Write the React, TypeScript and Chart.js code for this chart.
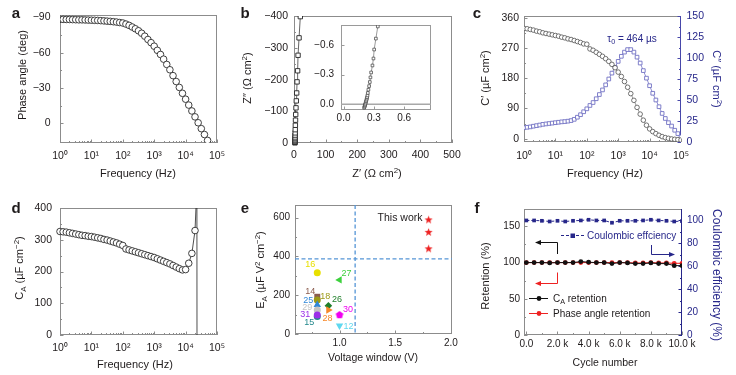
import { useEffect, useRef } from 'react';
import { Chart, registerables } from 'chart.js';

Chart.register(...registerables);

/* ===================== DATA ===================== */
const FREQ_HZ = [
  1, 1.259, 1.585, 1.995, 2.512, 3.162, 3.981, 5.012, 6.31, 7.943,
  10, 12.59, 15.85, 19.95, 25.12, 31.62, 39.81, 50.12, 63.1, 79.43,
  100, 125.9, 158.5, 199.5, 251.2, 316.2, 398.1, 501.2, 631, 794.3,
  1000, 1259, 1585, 1995, 2512, 3162, 3981, 5012, 6310, 7943,
  10000, 12589, 15849, 19953, 25119, 31623, 39811, 50119, 63096, 79433, 100000,
];
const LOG_TICKS = [1, 10, 100, 1000, 10000, 100000];

// (a) phase angle (deg)
const PHASE_ANGLE = [
  -88.3, -88.3, -88.2, -88.2, -88.1, -88.0, -87.9, -87.9, -87.8, -87.7,
  -87.6, -87.5, -87.4, -87.2, -87.0, -86.8, -86.6, -86.3, -86.0, -85.6,
  -85.2, -84.3, -83.2, -81.8, -80.3, -78.6, -76.5, -74.0, -71.2, -68.5,
  -65.5, -62.0, -58.5, -54.5, -50.0, -45.5, -40.5, -35.5, -30.5, -25.5,
  -20.5, -15.5, -10.5, -5.5, -0.5, 4.5, 9.5, 14.5,
];
const A_Y_TICKS = [-90, -60, -30, 0];

// (b) Nyquist
const Z_RE = [3.0, 3.0, 3.1, 3.1, 3.2, 3.3, 3.4, 3.5, 3.7, 3.9, 4.3, 4.8, 5.4, 6.3, 7.3, 8.5, 9.7, 11.5, 12.8, 16, 20];
const Z_IM = [-0.5, -2, -4, -7, -10, -14, -19, -25, -32, -42, -56, -72, -90, -111, -133, -158, -193, -228, -277, -332, -399];
const B_X_TICKS = [0, 100, 200, 300, 400, 500];
const B_Y_TICKS = [-400, -300, -200, -100, 0];
const INSET_Z_RE = [0.204, 0.208, 0.211, 0.213, 0.216, 0.22, 0.223, 0.227, 0.23, 0.233, 0.237, 0.24, 0.246, 0.253, 0.26, 0.266, 0.273, 0.286, 0.296, 0.303, 0.32, 0.339];
const INSET_Z_IM = [0.035, 0.025, 0.015, 0.006, -0.005, -0.018, -0.031, -0.045, -0.058, -0.072, -0.09, -0.115, -0.148, -0.185, -0.226, -0.273, -0.323, -0.394, -0.465, -0.556, -0.667, -0.79];
const INSET_X_TICKS = [0, 0.3, 0.6];
const INSET_Y_TICKS = [-0.6, -0.3, 0];
const INSET_BASELINE = 0;

// (c) C' (left) and C'' (right)
const C_REAL = [
  328, 327, 325, 323, 320, 318, 315, 313, 311, 309,
  307, 305, 302, 300, 297, 295, 292, 289, 286, 282,
  281, 267, 263, 257, 251, 245, 238, 230, 221, 211,
  198, 185, 170, 153, 134, 114, 93, 73, 55, 40,
  29, 21, 15, 10, 6, 3, 1, -1, -2, -3, -4,
];
const C_IMAG = [
  17, 17.5, 18, 18.8, 19.5, 20.2, 21, 21.5, 22, 22.5,
  23, 23.5, 24, 24.3, 24.8, 25.5, 27, 29.5, 32.5, 36,
  39.5, 43.5, 47, 51.5, 56.5, 62, 68, 75, 82, 89,
  96, 102, 107, 110, 110, 107, 101, 94, 85, 76,
  67, 58, 50, 42, 34, 28, 23, 19, 14, 10, 6,
];
const C_LEFT_TICKS = [0, 90, 180, 270, 360];
const C_RIGHT_TICKS = [0, 25, 50, 75, 100, 125, 150];

// (d) areal capacitance
const CA = [
  326, 325, 324, 322, 320, 318, 316, 314, 313, 311,
  310, 308, 306, 304, 301, 299, 296, 293, 290, 286,
  282, 271, 268, 265, 262, 259, 256, 253, 250, 247,
  244, 240, 236, 232, 228, 224, 219, 214, 209, 205,
  206, 226, 257, 329,
];
const CA_TAIL_FREQ = [22900, 24000];
const CA_TAIL = [470, -3000];
const D_Y_TICKS = [0, 100, 200, 300, 400];

// (e) comparison
const REF_IDS = ['16', '27', '14', '18', '25', '26', '29', '28', '15', '31', '30', '12'];
const REF_WINDOW = [0.8, 1.0, 0.8, 0.8, 0.8, 0.9, 0.8, 0.9, 0.8, 0.8, 1.0, 1.0];
const REF_EA = [316, 279, 192, 175, 150, 146, 124, 124, 90, 98, 98, 43];
const THIS_WORK_WINDOW = [1.8, 1.8, 1.8];
const THIS_WORK_EA = [588, 524, 439];
const THRESHOLD_WINDOW = 1.14;
const THRESHOLD_EA = 387;
const E_X_TICKS = [1.0, 1.5, 2.0];
const E_Y_TICKS = [0, 200, 400, 600];

// (f) cycling
const CYCLES = [0, 500, 1000, 1500, 2000, 2500, 3000, 3500, 4000, 4500, 5000, 5500, 6000, 6500, 7000, 7500, 8000, 8500, 9000, 9500, 10000];
const CA_RETENTION = [100, 100, 100, 99.5, 100, 100, 100, 101.4, 100.5, 100, 100, 98.6, 100, 99.5, 98.6, 98.6, 99.5, 98.6, 98.6, 95.8, 95.8];
const PHASE_RETENTION = [100, 100, 100, 100, 100, 100, 100, 100, 100, 100, 100, 100, 100, 100, 99.5, 99.5, 100, 99.5, 99.5, 99, 99];
const COULOMBIC = [100, 100, 99.7, 99.1, 99.7, 99.1, 99.7, 100, 100.6, 100, 100, 98, 99.7, 99.7, 99.7, 100, 100.6, 100, 99.7, 99.1, 99.4];
const F_X_TICKS = [0, 2000, 4000, 6000, 8000, 10000];
const F_LEFT_TICKS = [0, 50, 100, 150];
const F_RIGHT_TICKS = [0, 20, 40, 60, 80, 100];

/* ===================== STYLE ===================== */
const FONT = '"Liberation Sans", Arial, Helvetica, sans-serif';
const TXT = '#1e1a1b';
const FRAME = '#8c8c8c';
const NAVY = '#27278a';
const SLATE = '#7272c4';
const RED = '#ee2222';

const REF_COLORS = ['#e8e000', '#3dd13d', '#8b5c4e', '#9c9a17', '#2f87d8', '#1f7f2a', '#c4c4c4', '#f7892a', '#23888c', '#9b30e8', '#f000f0', '#5fd8ef'];
const REF_MARKERS = ['circle', 'triangle', 'rect', 'circle', 'triangle', 'rectRot', 'circle', 'triangle', 'circle', 'circle', 'pentagon', 'triangle'];
const REF_ROTATION = [0, -90, 0, 0, 0, 0, 0, 90, 0, 0, 0, 180];
const REF_LABEL_DX = [-7, 7, -7, 8, -9, 8.5, -10, -1, -8, -12, 8.5, 9];
const REF_LABEL_DY = [-9, -7.5, -6, -4.5, -5, -6.5, -3.5, 8, 5, -1.5, -6, 0];

/* ===================== HELPERS ===================== */
type Seg = { t: string; s?: 'sub' | 'sup' };
const SUP: Record<string, string> = { '0': '⁰', '1': '¹', '2': '²', '3': '³', '4': '⁴', '5': '⁵' };
const logLabel = (v: number) => '10' + String(Math.round(Math.log10(v))).split('').map((c) => SUP[c]).join('');
const minus = (s: string) => s.replace('-', '−');
const fmtInt = (v: number) => minus(String(Math.round(v)));
const fmt1 = (v: number) => minus((Math.abs(v) < 1e-9 ? 0 : v).toFixed(1));
const fmtK = (v: number) => (v === 0 ? '0.0' : (v / 1000).toFixed(1) + ' k');
const mids = (a: number[]) => a.slice(1).map((v, i) => (v + a[i]) / 2);
const LOG_MINOR: number[] = [];
for (let e = 0; e < 5; e++) for (let k = 2; k < 10; k++) LOG_MINOR.push(k * Math.pow(10, e));

function drawRich(ctx: CanvasRenderingContext2D, parts: Seg[], x: number, y: number,
  o: { size?: number; color?: string; rot?: number; align?: 'center' | 'left' | 'right'; bold?: boolean } = {}) {
  const size = o.size ?? 11;
  const small = size * 0.72;
  const weight = o.bold ? 'bold ' : '';
  ctx.save();
  ctx.translate(x, y);
  if (o.rot) ctx.rotate(o.rot);
  let w = 0;
  const widths = parts.map((p) => {
    ctx.font = `${weight}${p.s ? small : size}px ${FONT}`;
    const m = ctx.measureText(p.t).width;
    w += m;
    return m;
  });
  let cx = o.align === 'left' ? 0 : o.align === 'right' ? -w : -w / 2;
  ctx.fillStyle = o.color ?? TXT;
  ctx.textBaseline = 'alphabetic';
  ctx.textAlign = 'left';
  parts.forEach((p, i) => {
    ctx.font = `${weight}${p.s ? small : size}px ${FONT}`;
    const dy = p.s === 'sup' ? -size * 0.4 : p.s === 'sub' ? size * 0.25 : 0;
    ctx.fillText(p.t, cx, size * 0.36 + dy);
    cx += widths[i];
  });
  ctx.restore();
}
const T = (t: string): Seg[] => [{ t }];

function box(L: number, Tp: number, R: number, B: number, lw: number, bh: number, rw = 0) {
  return { padding: { left: L - lw, top: Tp, right: 736 - R - rw, bottom: 375 - B - bh } };
}

function axis(o: any) {
  const horiz = o.position === 'bottom';
  return {
    type: o.type || 'linear',
    position: o.position,
    min: o.min,
    max: o.max,
    reverse: !!o.reverse,
    afterBuildTicks: (s: any) => { s.ticks = o.ticks.map((v: number) => ({ value: v })); },
    afterFit: (s: any) => {
      if (horiz) { s.height = o.size; s.paddingLeft = 0; s.paddingRight = 0; }
      else { s.width = o.size; s.paddingTop = 0; s.paddingBottom = 0; }
    },
    ticks: {
      autoSkip: false, maxRotation: 0, minRotation: 0, padding: o.pad,
      color: o.color || TXT,
      font: { family: FONT, size: o.fontSize || 10.5 },
      callback: (v: any) => (o.fmt ? o.fmt(Number(v)) : fmtInt(Number(v))),
    },
    grid: { display: false, drawTicks: false },
    border: { display: false },
    title: { display: false },
  };
}

function opts(layout: any, scales: any) {
  return {
    animation: false as const, responsive: false, maintainAspectRatio: false, devicePixelRatio: 1,
    events: [] as any[], layout, scales,
    plugins: { legend: { display: false }, tooltip: { enabled: false }, title: { display: false } },
  };
}

function tickSet(ctx: CanvasRenderingContext2D, s: any, a: any, vals: number[], len: number, color: string) {
  ctx.strokeStyle = color;
  ctx.lineWidth = 1;
  ctx.beginPath();
  for (const v of vals) {
    const p = s.getPixelForValue(v);
    if (s.isHorizontal()) {
      if (p < a.left - 0.5 || p > a.right + 0.5) continue;
      const px = Math.round(p) + 0.5;
      ctx.moveTo(px, a.bottom); ctx.lineTo(px, a.bottom - len);
    } else {
      if (p < a.top - 0.5 || p > a.bottom + 0.5) continue;
      const py = Math.round(p) + 0.5;
      if (s.position === 'right') { ctx.moveTo(a.right, py); ctx.lineTo(a.right - len, py); }
      else { ctx.moveTo(a.left, py); ctx.lineTo(a.left + len, py); }
    }
  }
  ctx.stroke();
}

function decor(d: { frame?: string; right?: string; minor?: Record<string, number[]>; under?: (c: any, ctx: CanvasRenderingContext2D) => void; extra?: (c: any, ctx: CanvasRenderingContext2D) => void }) {
  return {
    id: 'decor',
    beforeDatasetsDraw(chart: any) {
      const ctx: CanvasRenderingContext2D = chart.ctx;
      const a = chart.chartArea;
      ctx.save();
      const fc = d.frame ?? FRAME;
      ctx.lineWidth = 1;
      ctx.strokeStyle = fc;
      ctx.strokeRect(a.left + 0.5, a.top + 0.5, a.right - a.left - 1, a.bottom - a.top - 1);
      if (d.right) {
        ctx.strokeStyle = d.right;
        ctx.beginPath(); ctx.moveTo(a.right - 0.5, a.top); ctx.lineTo(a.right - 0.5, a.bottom); ctx.stroke();
      }
      for (const id of Object.keys(chart.scales)) {
        const s = chart.scales[id];
        const col = s.position === 'right' && d.right ? d.right : fc;
        tickSet(ctx, s, a, s.ticks.map((t: any) => t.value), 3.5, col);
        tickSet(ctx, s, a, d.minor?.[id] ?? [], 2, col);
      }
      if (d.under) d.under(chart, ctx);
      ctx.restore();
    },
    afterDatasetsDraw(chart: any) {
      if (!d.extra) return;
      chart.ctx.save();
      d.extra(chart, chart.ctx);
      chart.ctx.restore();
    },
  };
}

function polyCanvas(color: string, R: number, n: number, inner?: number) {
  const size = Math.ceil(R * 2 + 2);
  const c = document.createElement('canvas');
  c.width = size; c.height = size;
  const g = c.getContext('2d')!;
  g.fillStyle = color;
  g.beginPath();
  const steps = inner ? n * 2 : n;
  for (let i = 0; i < steps; i++) {
    const r = inner && i % 2 === 1 ? inner : R;
    const ang = -Math.PI / 2 + (i * 2 * Math.PI) / steps;
    g.lineTo(size / 2 + r * Math.cos(ang), size / 2 + r * Math.sin(ang));
  }
  g.closePath();
  g.fill();
  return c;
}

function arrow(ctx: CanvasRenderingContext2D, pts: number[][], color: string) {
  ctx.strokeStyle = color; ctx.fillStyle = color; ctx.lineWidth = 1;
  ctx.beginPath();
  pts.forEach((p, i) => (i ? ctx.lineTo(p[0], p[1]) : ctx.moveTo(p[0], p[1])));
  ctx.stroke();
  const [x1, y1] = pts[pts.length - 2];
  const [x2, y2] = pts[pts.length - 1];
  const ang = Math.atan2(y2 - y1, x2 - x1);
  ctx.beginPath();
  ctx.moveTo(x2 + Math.cos(ang) * 3, y2 + Math.sin(ang) * 3);
  ctx.lineTo(x2 - Math.cos(ang) * 3 + Math.sin(ang) * 2.6, y2 - Math.sin(ang) * 3 - Math.cos(ang) * 2.6);
  ctx.lineTo(x2 - Math.cos(ang) * 3 - Math.sin(ang) * 2.6, y2 - Math.sin(ang) * 3 + Math.cos(ang) * 2.6);
  ctx.closePath();
  ctx.fill();
}

const ROT_L = -Math.PI / 2;
const ROT_R = Math.PI / 2;

/* ===================== CHARTS ===================== */
function chartA(cv: HTMLCanvasElement) {
  return new Chart(cv, {
    type: 'scatter',
    data: { datasets: [{
      data: PHASE_ANGLE.map((y, i) => ({ x: FREQ_HZ[i], y })),
      pointStyle: 'circle', pointRadius: 3.3, pointBorderWidth: 0.9, pointBorderColor: '#2b2b2b', pointBackgroundColor: '#fff',
    }] },
    options: opts(box(60, 15, 217, 143, 40, 30), {
      x: axis({ type: 'logarithmic', position: 'bottom', min: 1, max: 1e5, ticks: LOG_TICKS, fmt: logLabel, pad: 6.5, size: 30 }),
      y: axis({ position: 'left', min: -92, max: 16.7, reverse: true, ticks: A_Y_TICKS, pad: 9.5, size: 40 }),
    }) as any,
    plugins: [decor({ minor: { x: LOG_MINOR, y: mids(A_Y_TICKS) }, extra: (_c, ctx) => {
      drawRich(ctx, T('a'), 16, 13, { size: 15, bold: true });
      drawRich(ctx, T('Phase angle (deg)'), 22, 75, { rot: ROT_L });
      drawRich(ctx, T('Frequency (Hz)'), 138, 173);
    } })],
  });
}

function chartB(cv: HTMLCanvasElement) {
  return new Chart(cv, {
    type: 'scatter',
    data: { datasets: [{
      data: Z_RE.map((x, i) => ({ x, y: Z_IM[i] })),
      showLine: true, borderColor: '#222', borderWidth: 0.7,
      pointStyle: 'rect', pointRadius: 3.1, pointBorderWidth: 0.9, pointBorderColor: '#222', pointBackgroundColor: '#fff',
      clip: { left: 6, right: 6, top: 0, bottom: 6 },
    } as any] },
    options: opts(box(294, 16, 452, 143, 40, 30), {
      x: axis({ position: 'bottom', min: 0, max: 500, ticks: B_X_TICKS, pad: 5.5, size: 30 }),
      y: axis({ position: 'left', min: -401, max: 0, reverse: true, ticks: B_Y_TICKS, pad: 6, size: 40 }),
    }) as any,
    plugins: [decor({ minor: { x: mids(B_X_TICKS), y: mids(B_Y_TICKS) }, extra: (_c, ctx) => {
      drawRich(ctx, T('b'), 245, 13, { size: 15, bold: true });
      drawRich(ctx, [{ t: 'Z″ (Ω cm' }, { t: '2', s: 'sup' }, { t: ')' }], 247, 78, { rot: ROT_L });
      drawRich(ctx, [{ t: 'Z′ (Ω cm' }, { t: '2', s: 'sup' }, { t: ')' }], 377, 173);
    } })],
  });
}

function chartInset(cv: HTMLCanvasElement) {
  return new Chart(cv, {
    type: 'scatter',
    data: { datasets: [{
      data: INSET_Z_RE.map((x, i) => ({ x, y: INSET_Z_IM[i] })),
      showLine: true, borderColor: '#555', borderWidth: 0.6,
      pointStyle: 'rect', pointRadius: 1.9, pointBorderWidth: 0.7, pointBorderColor: '#3a3a3a', pointBackgroundColor: '#fff',
    }] },
    options: opts(box(341, 25, 431, 110, 30, 20), {
      x: axis({ position: 'bottom', min: -0.025, max: 0.865, ticks: INSET_X_TICKS, fmt: fmt1, pad: 2.5, size: 20, fontSize: 10 }),
      y: axis({ position: 'left', min: -0.805, max: 0.058, reverse: true, ticks: INSET_Y_TICKS, fmt: fmt1, pad: 7, size: 30, fontSize: 10 }),
    }) as any,
    plugins: [decor({ frame: '#9a9a9a', under: (c, ctx) => {
      const a = c.chartArea;
      const y = c.scales.y.getPixelForValue(INSET_BASELINE);
      ctx.strokeStyle = '#a8a8a8'; ctx.lineWidth = 1.6;
      ctx.beginPath(); ctx.moveTo(a.left, y); ctx.lineTo(a.right, y); ctx.stroke();
    } })],
  });
}

function chartC(cv: HTMLCanvasElement) {
  return new Chart(cv, {
    type: 'scatter',
    data: { datasets: [
      {
        data: C_REAL.map((y, i) => ({ x: FREQ_HZ[i], y })), yAxisID: 'y',
        showLine: true, borderColor: '#555', borderWidth: 0.6,
        pointStyle: 'circle', pointRadius: 2.3, pointBorderWidth: 0.8, pointBorderColor: '#505050', pointBackgroundColor: '#fff',
      },
      {
        data: C_IMAG.map((y, i) => ({ x: FREQ_HZ[i], y })), yAxisID: 'y2',
        showLine: true, borderColor: SLATE, borderWidth: 0.8,
        pointStyle: 'rect', pointRadius: 2.6, pointBorderWidth: 0.9, pointBorderColor: SLATE, pointBackgroundColor: '#fff',
      },
    ] },
    options: opts(box(524, 16, 681, 142, 40, 30, 40), {
      x: axis({ type: 'logarithmic', position: 'bottom', min: 1, max: 1e5, ticks: LOG_TICKS, fmt: logLabel, pad: 8, size: 30 }),
      y: axis({ position: 'left', min: -10, max: 365, ticks: C_LEFT_TICKS, pad: 5, size: 40 }),
      y2: axis({ position: 'right', min: 0, max: 150, ticks: C_RIGHT_TICKS, pad: 5.5, size: 40, color: NAVY }),
    }) as any,
    plugins: [decor({ right: '#4848aa', minor: { x: LOG_MINOR, y: mids(C_LEFT_TICKS), y2: mids(C_RIGHT_TICKS) }, extra: (_c, ctx) => {
      drawRich(ctx, T('c'), 477, 13, { size: 15, bold: true });
      drawRich(ctx, [{ t: 'C′ (µF cm' }, { t: '2', s: 'sup' }, { t: ')' }], 485, 78, { rot: ROT_L });
      drawRich(ctx, [{ t: 'C″ (µF cm' }, { t: '2', s: 'sup' }, { t: ')' }], 717, 79, { rot: ROT_R, color: NAVY });
      drawRich(ctx, T('Frequency (Hz)'), 605, 173);
      drawRich(ctx, [{ t: 'τ' }, { t: '0', s: 'sub' }, { t: ' = 464 µs' }], 632, 38, { size: 10, color: NAVY });
    } })],
  });
}

function chartD(cv: HTMLCanvasElement) {
  const freq = FREQ_HZ.slice(0, CA.length).concat(CA_TAIL_FREQ);
  const vals = CA.concat(CA_TAIL);
  return new Chart(cv, {
    type: 'scatter',
    data: { datasets: [{
      data: vals.map((y, i) => ({ x: freq[i], y })),
      showLine: true, borderColor: '#222', borderWidth: 0.8,
      pointStyle: 'circle', pointRadius: vals.map((_, i) => (i < CA.length ? 3.3 : 0)),
      pointBorderWidth: 0.9, pointBorderColor: '#2b2b2b', pointBackgroundColor: '#fff',
      clip: { left: 6, right: 6, top: 0, bottom: 0 },
    } as any] },
    options: opts(box(60, 208, 217, 335, 40, 30), {
      x: axis({ type: 'logarithmic', position: 'bottom', min: 1, max: 1e5, ticks: LOG_TICKS, fmt: logLabel, pad: 6.5, size: 30 }),
      y: axis({ position: 'left', min: 0, max: 400, ticks: D_Y_TICKS, pad: 8, size: 40 }),
    }) as any,
    plugins: [decor({ minor: { x: LOG_MINOR, y: mids(D_Y_TICKS) }, extra: (_c, ctx) => {
      drawRich(ctx, T('d'), 16, 207.3, { size: 15, bold: true });
      drawRich(ctx, [{ t: 'C' }, { t: 'A', s: 'sub' }, { t: ' (µF cm' }, { t: '−2', s: 'sup' }, { t: ')' }], 19, 268, { rot: ROT_L });
      drawRich(ctx, T('Frequency (Hz)'), 135, 364);
    } })],
  });
}

function chartE(cv: HTMLCanvasElement) {
  const pent = polyCanvas('#f000f0', 4, 5);
  const star = polyCanvas(RED, 4.3, 5, 1.8);
  return new Chart(cv, {
    type: 'scatter',
    data: { datasets: [
      {
        data: REF_WINDOW.map((x, i) => ({ x, y: REF_EA[i] })),
        pointStyle: REF_MARKERS.map((m) => (m === 'pentagon' ? pent : m)) as any,
        pointRotation: REF_ROTATION,
        pointRadius: REF_MARKERS.map((m) => (m === 'triangle' ? 4.3 : m === 'rect' ? 4.2 : m === 'rectRot' ? 3.8 : 3.5)),
        pointBackgroundColor: REF_COLORS, pointBorderColor: REF_COLORS, pointBorderWidth: 0,
      },
      {
        data: THIS_WORK_WINDOW.map((x, i) => ({ x, y: THIS_WORK_EA[i] })),
        pointStyle: star as any, pointRadius: 4,
      },
    ] },
    options: opts(box(295, 205, 452, 334, 40, 30), {
      x: axis({ position: 'bottom', min: 0.6, max: 2.01, ticks: E_X_TICKS, fmt: fmt1, pad: 3.5, size: 30, fontSize: 10 }),
      y: axis({ position: 'left', min: 0, max: 665, ticks: E_Y_TICKS, pad: 5, size: 40, fontSize: 10 }),
    }) as any,
    plugins: [decor({ minor: { x: mids([0.5, 1.0, 1.5, 2.0]), y: mids(E_Y_TICKS) }, under: (c, ctx) => {
      const a = c.chartArea;
      const vx = c.scales.x.getPixelForValue(THRESHOLD_WINDOW);
      const hy = c.scales.y.getPixelForValue(THRESHOLD_EA);
      ctx.strokeStyle = '#5595d6'; ctx.lineWidth = 1.3; ctx.setLineDash([4, 2.5]);
      ctx.beginPath();
      ctx.moveTo(vx, a.top); ctx.lineTo(vx, a.bottom);
      ctx.moveTo(a.left, hy); ctx.lineTo(a.right, hy);
      ctx.stroke();
      ctx.setLineDash([]);
    }, extra: (c, ctx) => {
      REF_IDS.forEach((id, i) => {
        const px = c.scales.x.getPixelForValue(REF_WINDOW[i]) + REF_LABEL_DX[i];
        const py = c.scales.y.getPixelForValue(REF_EA[i]) + REF_LABEL_DY[i];
        drawRich(ctx, T(id), px, py, { size: 9, color: REF_COLORS[i] });
      });
      drawRich(ctx, T('This work'), 400, 217, { size: 10.5 });
      drawRich(ctx, T('e'), 245, 207.3, { size: 15, bold: true });
      drawRich(ctx, [{ t: 'E' }, { t: 'A', s: 'sub' }, { t: ' (µF V' }, { t: '2', s: 'sup' }, { t: ' cm' }, { t: '−2', s: 'sup' }, { t: ')' }], 260, 270, { rot: ROT_L });
      drawRich(ctx, T('Voltage window (V)'), 373, 357, { size: 10.5 });
    } })],
  });
}

function chartF(cv: HTMLCanvasElement) {
  return new Chart(cv, {
    type: 'scatter',
    data: { datasets: [
      {
        data: COULOMBIC.map((y, i) => ({ x: CYCLES[i], y })), yAxisID: 'y2',
        showLine: true, borderColor: NAVY, borderWidth: 1, borderDash: [3, 2],
        pointStyle: 'rect', pointRadius: 2.6, pointBorderWidth: 0, pointBackgroundColor: NAVY,
      },
      {
        data: CA_RETENTION.map((y, i) => ({ x: CYCLES[i], y })), yAxisID: 'y',
        showLine: true, borderColor: '#111', borderWidth: 1,
        pointStyle: 'circle', pointRadius: 2.4, pointBorderWidth: 0, pointBackgroundColor: '#111',
      },
      {
        data: PHASE_RETENTION.map((y, i) => ({ x: CYCLES[i], y })), yAxisID: 'y',
        showLine: true, borderColor: RED, borderWidth: 1,
        pointStyle: 'circle', pointRadius: 2.4, pointBorderWidth: 0, pointBackgroundColor: RED,
      },
    ] },
    options: opts(box(524, 209, 682, 335, 40, 30, 40), {
      x: axis({ position: 'bottom', min: -150, max: 10000, ticks: F_X_TICKS, fmt: fmtK, pad: 3.5, size: 30, fontSize: 10 }),
      y: axis({ position: 'left', min: 0, max: 174, ticks: F_LEFT_TICKS, pad: 4, size: 40, fontSize: 10 }),
      y2: axis({ position: 'right', min: 0, max: 110, ticks: F_RIGHT_TICKS, pad: 5, size: 40, fontSize: 10, color: NAVY }),
    }) as any,
    plugins: [decor({ right: NAVY, minor: { x: mids(F_X_TICKS), y: mids(F_LEFT_TICKS), y2: mids(F_RIGHT_TICKS) }, extra: (_c, ctx) => {
      // legend entries
      ctx.strokeStyle = NAVY; ctx.lineWidth = 1; ctx.setLineDash([3, 2]);
      ctx.beginPath(); ctx.moveTo(561, 235.5); ctx.lineTo(584, 235.5); ctx.stroke(); ctx.setLineDash([]);
      ctx.fillStyle = NAVY; ctx.fillRect(570.5, 233.5, 4.5, 4.5);
      drawRich(ctx, T('Coulombic effciency'), 587, 235.5, { size: 10, color: NAVY, align: 'left' });
      ctx.strokeStyle = '#111'; ctx.beginPath(); ctx.moveTo(529, 298.5); ctx.lineTo(548, 298.5); ctx.stroke();
      ctx.fillStyle = '#111'; ctx.beginPath(); ctx.arc(539, 298.5, 2.4, 0, Math.PI * 2); ctx.fill();
      drawRich(ctx, [{ t: 'C' }, { t: 'A', s: 'sub' }, { t: ' retention' }], 553, 298, { size: 10, align: 'left' });
      ctx.strokeStyle = RED; ctx.beginPath(); ctx.moveTo(529, 313.5); ctx.lineTo(548, 313.5); ctx.stroke();
      ctx.fillStyle = RED; ctx.beginPath(); ctx.arc(539, 313.5, 2.4, 0, Math.PI * 2); ctx.fill();
      drawRich(ctx, T('Phase angle retention'), 553, 313, { size: 10, align: 'left' });
      // arrows
      arrow(ctx, [[557.5, 254], [557.5, 242.5], [538, 242.5]], '#111');
      arrow(ctx, [[557.5, 272.5], [557.5, 283.5], [538, 283.5]], RED);
      arrow(ctx, [[651.5, 245], [651.5, 254.5], [672, 254.5]], NAVY);
      // titles
      drawRich(ctx, T('f'), 477, 207.3, { size: 15, bold: true });
      drawRich(ctx, T('Retention (%)'), 485, 276, { rot: ROT_L });
      drawRich(ctx, T('Coulombic efficiency (%)'), 717, 275, { rot: ROT_R, color: NAVY, size: 12 });
      drawRich(ctx, T('Cycle number'), 605, 362, { size: 10.5 });
    } })],
  });
}

/* ===================== APP ===================== */
export default function App() {
  const host = useRef<HTMLDivElement>(null);
  useEffect(() => {
    const el = host.current!;
    const builders = [chartA, chartB, chartInset, chartC, chartD, chartE, chartF];
    const canvases: HTMLCanvasElement[] = [];
    const charts = builders.map((b) => {
      const cv = document.createElement('canvas');
      cv.width = 736; cv.height = 375;
      cv.style.cssText = 'position:absolute;left:0;top:0;width:736px;height:375px;';
      el.appendChild(cv);
      canvases.push(cv);
      return b(cv);
    });
    return () => {
      charts.forEach((c) => c.destroy());
      canvases.forEach((c) => c.remove());
    };
  }, []);
  return (
    <div
      ref={host}
      style={{ position: 'absolute', left: 0, top: 0, width: 736, height: 375, background: '#fff', overflow: 'hidden' }}
    />
  );
}
